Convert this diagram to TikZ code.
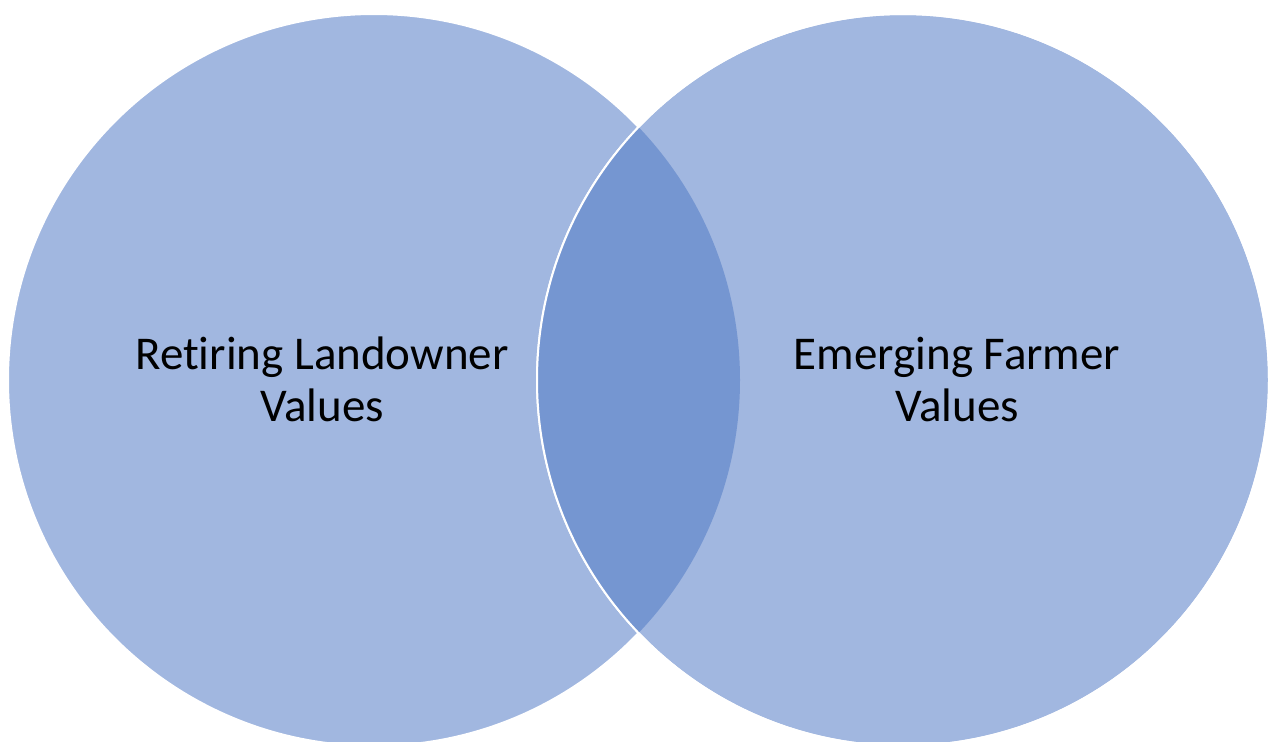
\documentclass[tikz,border=0pt]{standalone}
\usepackage{fontspec}
\setmainfont{Carlito}[Ligatures=NoCommon]
\definecolor{setfill}{HTML}{A1B7E0}
\definecolor{lensfill}{HTML}{7596D1}
\begin{document}
\begin{tikzpicture}[x=1pt,y=-1pt,
  setcircle/.style={fill=setfill,draw=white,line width=2pt},
  setlabel/.style={align=center,font=\fontsize{47}{52}\selectfont,text=black,inner sep=0pt}]
\useasboundingbox (0,0) rectangle (1270,742);
\begin{scope}
\clip (0,0) rectangle (1270,742);
% the two value sets
\node[setcircle,circle,minimum size=732pt,inner sep=0pt] (left) at (374,380) {};
\node[setcircle,circle,minimum size=732pt,inner sep=0pt] (right) at (903,380) {};
% shared values: the overlap
\begin{scope}
\clip (374,380) circle[radius=366];
\fill[lensfill] (903,380) circle[radius=366];
\end{scope}
\draw[white,line width=2pt] (903,380) circle[radius=366];
\end{scope}
\node[setlabel] (ltext) at (322,379) {Retiring Landowner\\Values};
\node[setlabel] (rtext) at (957,379) {Emerging Farmer\\Values};
\end{tikzpicture}
\end{document}
